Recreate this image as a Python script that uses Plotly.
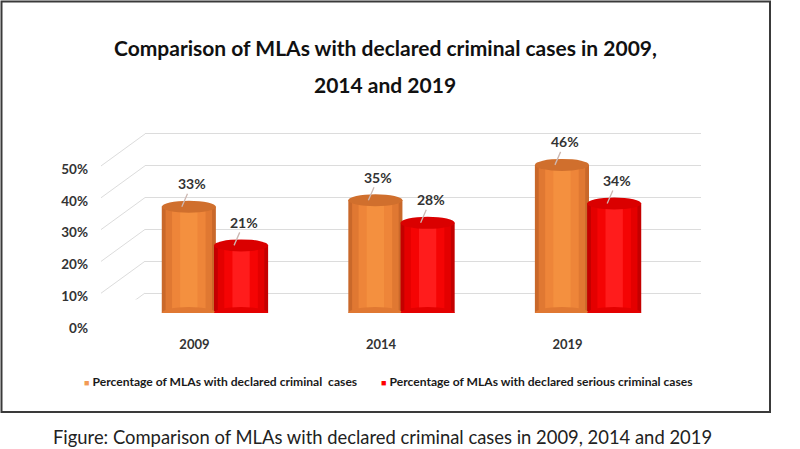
import plotly.graph_objects as go

# Data
years = ["2009", "2014", "2019"]
all_cases = [0.33, 0.35, 0.46]
serious_cases = [0.21, 0.28, 0.34]
name_all = "Percentage of MLAs with declared criminal&nbsp; cases"
name_serious = "Percentage of MLAs with declared serious criminal cases"
y_ticks = [0, 0.1, 0.2, 0.3, 0.4, 0.5]

W, H = 800, 449
font = "Lato"

# shading bands for the cylinders: (width fraction, colour), outside to inside
orange_bands = [(1.0, "#C9682A"), (0.86, "#E07832"), (0.62, "#EE8539"), (0.32, "#F4903F")]
red_bands = [(1.0, "#C40000"), (0.86, "#E40000"), (0.62, "#F50404"), (0.32, "#FF1C1C")]
orange_cap, red_cap = "#D06F2D", "#DA0000"
legend_orange, legend_red = "#F29A55", "#FF0000"


# pixel -> paper helpers (margins are zero, paper = whole page)
def px(x):
    return x / W


def py(y):
    return (H - y) / H


pos = list(range(len(years)))
off, bw = 0.14, 0.29
x_all = [p - off for p in pos]
x_ser = [p + off for p in pos]

fig = go.Figure()
# empty trace so the back-wall subplot (x, y) is kept
fig.add_trace(go.Scatter(x=[], y=[], xaxis="x", yaxis="y", showlegend=False, hoverinfo="skip"))

for xs, vals, bands in [(x_all, all_cases, orange_bands), (x_ser, serious_cases, red_bands)]:
    for frac, col in bands:
        fig.add_trace(go.Bar(x=xs, y=vals, width=bw * frac, xaxis="x2", yaxis="y2",
                             marker=dict(color=col, line=dict(width=0)),
                             showlegend=False, hoverinfo="skip"))

# cylinder caps, base and top, plus value labels with leader lines
for xs, vals, bands, cap in [(x_all, all_cases, orange_bands, orange_cap),
                             (x_ser, serious_cases, red_bands, red_cap)]:
    for x, v in zip(xs, vals):
        fig.add_shape(type="circle", xref="x2", yref="y2", x0=x - bw / 2, x1=x + bw / 2,
                      ysizemode="pixel", yanchor=0, y0=-6, y1=6,
                      fillcolor=bands[1][1], line=dict(width=0), layer="above")
        fig.add_shape(type="circle", xref="x2", yref="y2", x0=x - bw / 2, x1=x + bw / 2,
                      ysizemode="pixel", yanchor=v, y0=-6, y1=6,
                      fillcolor=cap, line=dict(width=0), layer="above")
        fig.add_annotation(xref="x2", yref="y2", x=x, y=v, xshift=-7,
                           text=f"<b>{round(v * 100)}%</b>", showarrow=True,
                           arrowhead=0, arrowwidth=1.3, arrowcolor="#CDB8B2",
                           ax=10, ay=-23, font=dict(family=font, size=14, color="#333333"))

# side-wall perspective lines joining the front labels to the back wall
for t in y_ticks:
    fig.add_shape(type="line", xref="paper", yref="y", x0=px(101), x1=px(145),
                  ysizemode="pixel", yanchor=t, y0=-32, y1=0,
                  line=dict(color="#DCDCDC", width=1))

# title, two lines
fig.add_annotation(xref="paper", yref="paper", x=px(385), y=py(48), yanchor="middle",
                   text="<b>Comparison of MLAs with declared criminal cases in 2009,</b>",
                   showarrow=False, font=dict(family=font, size=21, color="#111111"))
fig.add_annotation(xref="paper", yref="paper", x=px(385), y=py(85), yanchor="middle",
                   text="<b>2014 and 2019</b>",
                   showarrow=False, font=dict(family=font, size=21, color="#111111"))

# legend, drawn as text
for lx, col, name in [(82, legend_orange, name_all), (379, legend_red, name_serious)]:
    fig.add_annotation(xref="paper", yref="paper", x=px(lx), y=py(381), xanchor="left",
                       yanchor="middle", showarrow=False,
                       text=f"<span style='color:{col};font-size:9px'>■</span> <b>{name}</b>",
                       font=dict(family=font, size=12.1, color="#1A1A1A"))

# caption under the box
fig.add_annotation(xref="paper", yref="paper", x=px(382), y=py(437), yanchor="middle",
                   text="Figure: Comparison of MLAs with declared criminal cases in 2009, 2014 and 2019",
                   showarrow=False, font=dict(family=font, size=18.4, color="#222222"))

# chart frame
fig.add_shape(type="rect", xref="paper", yref="paper", x0=px(1.5), x1=px(770),
              y0=py(412), y1=py(1.5), line=dict(color="#3A3A3A", width=2))

fig.update_layout(
    width=W, height=H,
    margin=dict(l=0, r=0, t=0, b=0, autoexpand=False),
    paper_bgcolor="white", plot_bgcolor="rgba(0,0,0,0)",
    showlegend=False, barmode="overlay",
    # back wall: gridlines and percentage labels
    xaxis=dict(domain=[px(145), px(701)], range=[0, 1], anchor="y", showgrid=False,
               zeroline=False, showline=False, showticklabels=False, ticks="",
               automargin=False),
    yaxis=dict(domain=[py(299.4), py(127.6)], range=[-0.02, 0.52], anchor="x",
               tickvals=y_ticks, ticktext=[f"<b>{round(t * 100)}%</b>" for t in y_ticks],
               showgrid=True, gridcolor="#DCDCDC", gridwidth=1, zeroline=False,
               showline=False, ticks="", ticklabelstandoff=56, ticklabelshift=35,
               automargin=False, tickfont=dict(family=font, size=13.5, color="#333333")),
    # bars in front
    xaxis2=dict(domain=[px(103), px(700)], range=[-0.6, 2.6], anchor="y2",
                tickvals=[p - 0.11 for p in pos], ticktext=[f"<b>{y}</b>" for y in years],
                showgrid=False, zeroline=False, showline=False, ticks="", automargin=False,
                ticklabelstandoff=22, tickfont=dict(family=font, size=13, color="#333333")),
    yaxis2=dict(domain=[py(313), py(152)], range=[0, 0.5], anchor="x2", visible=False,
                automargin=False),
)

fig.write_html("out.html", config={"displayModeBar": False},
               post_script="document.body.style.margin='0px';")
